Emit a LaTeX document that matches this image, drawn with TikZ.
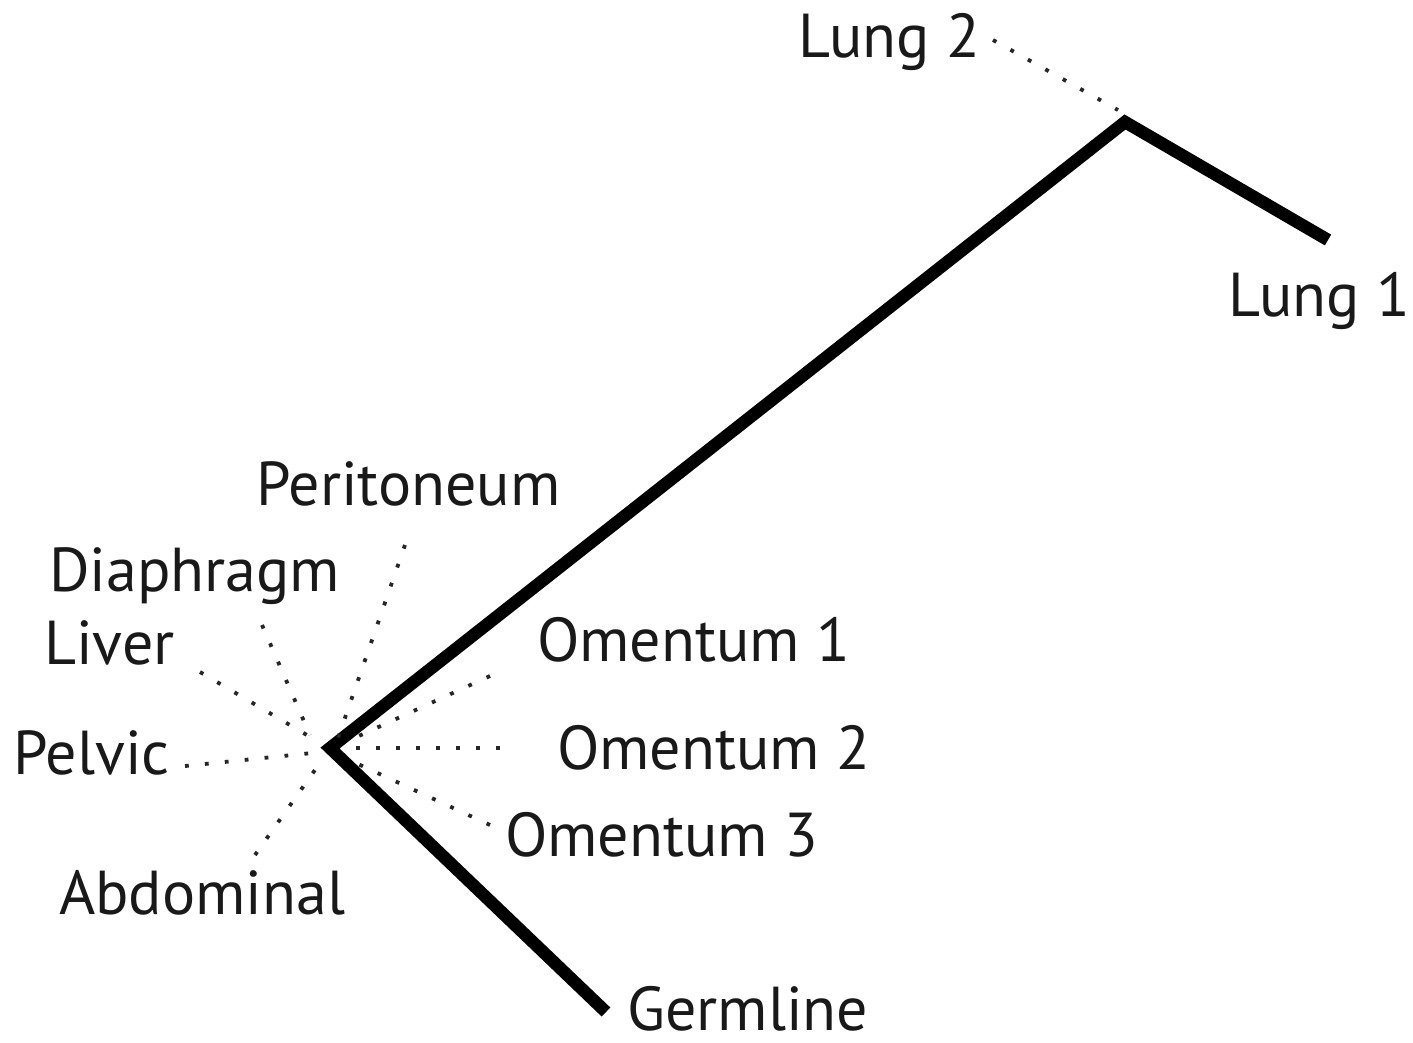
\documentclass[tikz,border=0pt]{standalone}
\usepackage{fontspec}
\setmainfont{PT Sans}
\begin{document}
\begin{tikzpicture}[x=1pt,y=-1pt,
  branch/.style={line width=12.5pt,line join=miter,line cap=butt},
  dotline/.style={line width=3.8pt,dash pattern=on 3.8pt off 16.2pt,black!85},
  lbl/.style={anchor=base west,inner sep=0pt,font=\fontsize{62}{66}\selectfont,text=black!90}]
\useasboundingbox (0,0) rectangle (1413,1042);
% tree coordinates
\coordinate (hub) at (330,748);
\coordinate (top) at (1125,122);
\coordinate (l1end) at (1328,240);
\coordinate (gend) at (606,1012);
% dotted ends
\coordinate (l2a) at (993,40);   \coordinate (l2b) at (1118,110);
\coordinate (pera) at (405,545); \coordinate (perb) at (338,738);
\coordinate (diaa) at (262,625); \coordinate (diab) at (310,735);
\coordinate (liva) at (200,672); \coordinate (livb) at (312,738);
\coordinate (pela) at (185,766); \coordinate (pelb) at (322,752);
\coordinate (abda) at (255,855); \coordinate (abdb) at (322,760);
\coordinate (om1a) at (490,676); \coordinate (om1b) at (350,740);
\coordinate (om2a) at (500,748); \coordinate (om2b) at (342,748);
\coordinate (om3a) at (490,825); \coordinate (om3b) at (345,758);
% labels
\node[lbl] (lung2) at (798,57) {Lung 2};
\node[lbl] (lung1) at (1228,316) {Lung 1};
\node[lbl] (perit) at (256,505) {Peritoneum};
\node[lbl] (diaph) at (49,591) {Diaphragm};
\node[lbl] (liver) at (44,664) {Liver};
\node[lbl] (pelvic) at (13,774) {Pelvic};
\node[lbl] (abdom) at (59,914) {Abdominal};
\node[lbl] (om1) at (537,661) {Omentum 1};
\node[lbl] (om2) at (557,769) {Omentum 2};
\node[lbl] (om3) at (505,856) {Omentum 3};
\node[lbl] (germ) at (627,1030) {Germline};
% thick branches
\draw[branch] (gend) -- (hub) -- (top) -- (l1end);
% dotted branches
\draw[dotline] (l2a) -- (l2b);
\draw[dotline] (pera) -- (perb);
\draw[dotline] (diaa) -- (diab);
\draw[dotline] (liva) -- (livb);
\draw[dotline] (pela) -- (pelb);
\draw[dotline] (abda) -- (abdb);
\draw[dotline] (om1a) -- (om1b);
\draw[dotline] (om2a) -- (om2b);
\draw[dotline] (om3a) -- (om3b);
\end{tikzpicture}
\end{document}
